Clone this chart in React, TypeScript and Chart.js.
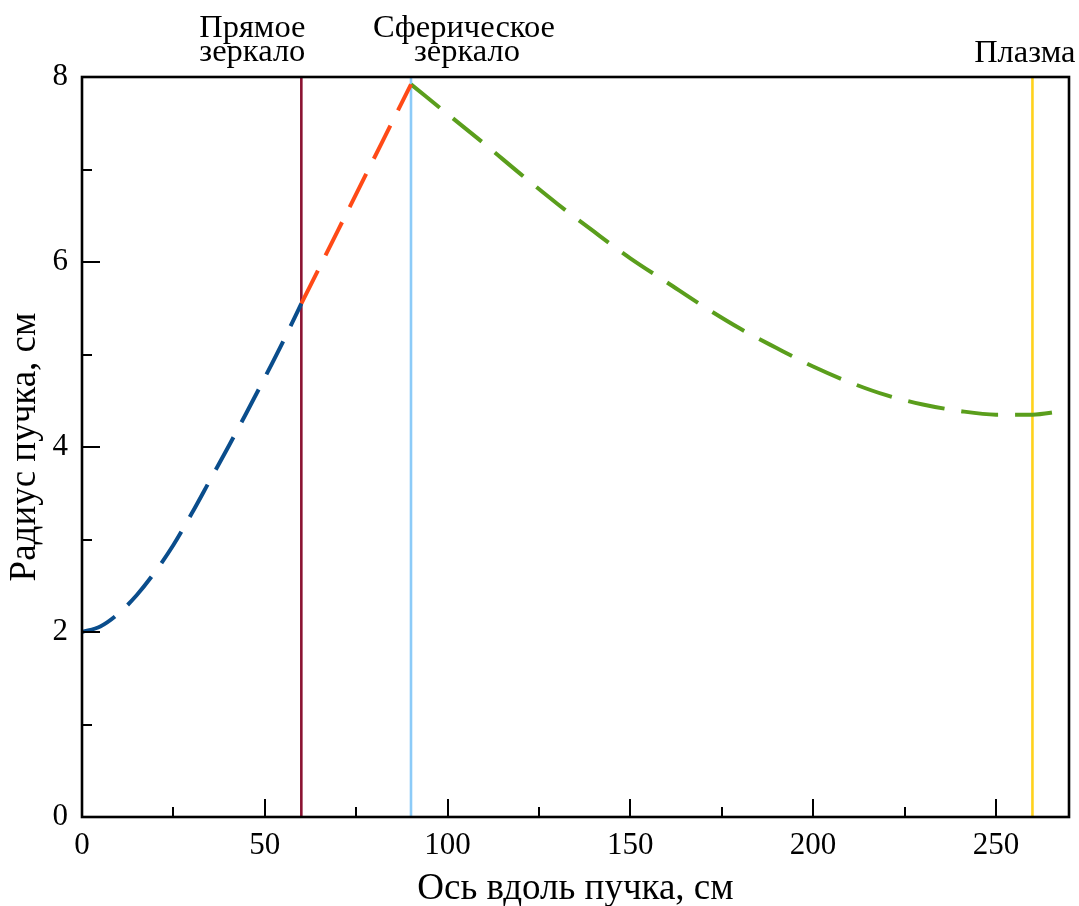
import { useEffect, useRef } from "react";
import { Chart, registerables } from "chart.js";

Chart.register(...registerables);

// Beam radius data (x: position along beam, cm; y: radius, cm)
const blueX = [0, 5, 10, 15, 20, 25, 30, 35, 40, 45, 50, 55, 60];
const blueY = [2.0, 2.06, 2.2, 2.4, 2.65, 2.94, 3.28, 3.64, 4.0, 4.37, 4.75, 5.14, 5.55];

const redX = [60, 70, 80, 90];
const redY = [5.55, 6.34, 7.13, 7.92];

const greenX = [90, 100, 110, 120, 130, 140, 150, 160, 170, 180, 190, 200, 210, 220, 230, 240, 250, 260, 265, 270];
const greenY = [7.92, 7.6, 7.28, 6.95, 6.63, 6.33, 6.04, 5.78, 5.52, 5.28, 5.07, 4.87, 4.7, 4.56, 4.46, 4.39, 4.35, 4.35, 4.37, 4.41];

// Vertical markers
const markerX = [60, 90, 260];
const markerColors = ["#8b1232", "#8ccbf8", "#ffd21c"];
const markerLabels = [["Прямое", "зеркало"], ["Сферическое", "зеркало"], ["Плазма"]];
const markerLabelX = [46.6, 104.5, 257.9];

// Axes
const xMajorTicks = [0, 50, 100, 150, 200, 250];
const xMinorTicks = [25, 75, 125, 175, 225];
const yMajorTicks = [0, 2, 4, 6, 8];
const yMinorTicks = [1, 3, 5, 7];
const xTitle = "Ось вдоль пучка, см";
const yTitle = "Радиус пучка, см";

const FONT = '"Liberation Serif", "Times New Roman", serif';

const toPoints = (xs: number[], ys: number[]) => xs.map((x, i) => ({ x, y: ys[i] }));

const framePlugin = {
  id: "frameTicks",
  afterDatasetsDraw(chart: any) {
    const { ctx, chartArea } = chart;
    const xs = chart.scales.x;
    const ys = chart.scales.y;
    ctx.save();
    ctx.strokeStyle = "#000";
    ctx.lineWidth = 2;
    ctx.lineCap = "butt";
    const drawX = (vals: number[], len: number) => {
      vals.forEach((v) => {
        const px = Math.round(xs.getPixelForValue(v));
        ctx.beginPath();
        ctx.moveTo(px, chartArea.bottom);
        ctx.lineTo(px, chartArea.bottom - len);
        ctx.stroke();
      });
    };
    const drawY = (vals: number[], len: number) => {
      vals.forEach((v) => {
        const py = Math.round(ys.getPixelForValue(v));
        ctx.beginPath();
        ctx.moveTo(chartArea.left, py);
        ctx.lineTo(chartArea.left + len, py);
        ctx.stroke();
      });
    };
    drawX(xMajorTicks, 18);
    drawX(xMinorTicks, 10);
    drawY(yMajorTicks, 18);
    drawY(yMinorTicks, 10);
    ctx.lineWidth = 2.6;
    ctx.strokeRect(chartArea.left, chartArea.top, chartArea.right - chartArea.left, chartArea.bottom - chartArea.top);

    ctx.fillStyle = "#000";
    ctx.font = `32.5px ${FONT}`;
    ctx.textAlign = "center";
    ctx.textBaseline = "alphabetic";
    markerLabels.forEach((lines, i) => {
      const px = xs.getPixelForValue(markerLabelX[i]);
      if (lines.length === 2) {
        ctx.fillText(lines[0], px, 37);
        ctx.fillText(lines[1], px + (i === 1 ? 3 : 0), 61);
      } else {
        ctx.fillText(lines[0], px, 62);
      }
    });
    ctx.restore();
  },
};

export default function App() {
  const ref = useRef<HTMLCanvasElement | null>(null);
  useEffect(() => {
    if (!ref.current) return;
    const curveStyle = {
      borderWidth: 4,
      borderDash: [37, 17],
      pointRadius: 0,
      fill: false,
      cubicInterpolationMode: "monotone" as const,
      borderCapStyle: "butt" as const,
    };
    const markerSets = markerX.map((mx, i) => ({
      label: markerLabels[i].join(" "),
      data: [
        { x: mx, y: 0 },
        { x: mx, y: 8 },
      ],
      borderColor: markerColors[i],
      borderWidth: 2.6,
      pointRadius: 0,
      fill: false,
    }));
    const chart = new Chart(ref.current, {
      type: "line",
      data: {
        datasets: [
          { label: "blue", data: toPoints(blueX, blueY), borderColor: "#0a4d8c", ...curveStyle },
          { label: "red", data: toPoints(redX, redY), borderColor: "#ff4a17", ...curveStyle },
          { label: "green", data: toPoints(greenX, greenY), borderColor: "#5a9e1c", ...curveStyle },
          ...markerSets,
        ],
      },
      options: {
        animation: false,
        responsive: true,
        maintainAspectRatio: false,
        layout: { padding: { top: 77, right: 10, left: 0, bottom: 0 } },
        plugins: { legend: { display: false }, tooltip: { enabled: false } },
        scales: {
          x: {
            type: "linear",
            min: 0,
            max: 270,
            grid: { display: false, drawTicks: false },
            border: { display: false },
            afterBuildTicks: (s: any) => {
              s.ticks = xMajorTicks.map((v) => ({ value: v }));
            },
            afterFit: (s: any) => {
              s.height = 89;
            },
            ticks: { color: "#000", font: { family: FONT, size: 31 }, padding: 10, maxRotation: 0, autoSkip: false },
            title: {
              display: true,
              text: xTitle,
              color: "#000",
              font: { family: FONT, size: 37, lineHeight: 1 },
              padding: { top: 0, bottom: -2 },
            },
          },
          y: {
            type: "linear",
            min: 0,
            max: 8,
            grid: { display: false, drawTicks: false },
            border: { display: false },
            afterBuildTicks: (s: any) => {
              s.ticks = yMajorTicks.map((v) => ({ value: v }));
            },
            afterFit: (s: any) => {
              s.width = 82;
            },
            ticks: { color: "#000", font: { family: FONT, size: 31 }, padding: 14, autoSkip: false },
            title: {
              display: true,
              text: yTitle,
              color: "#000",
              font: { family: FONT, size: 37, lineHeight: 1 },
              padding: { top: 7, bottom: 0 },
            },
          },
        },
      },
      plugins: [framePlugin],
    });
    return () => chart.destroy();
  }, []);
  return (
    <div style={{ position: "fixed", left: 0, top: 0, width: 1079, height: 906, background: "#fff" }}>
      <canvas ref={ref} />
    </div>
  );
}
